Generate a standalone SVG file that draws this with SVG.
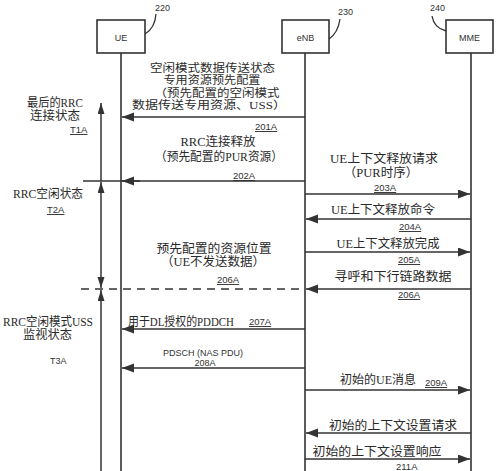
<svg xmlns="http://www.w3.org/2000/svg" width="500" height="471" viewBox="0 0 500 471">
<style>
.box{fill:#fff;stroke:#333;stroke-width:1.6}
.life{stroke:#333;stroke-width:1.6;fill:none}
.msg{stroke:#333;stroke-width:1.5;fill:none}
.lead{stroke:#333;stroke-width:1.3;fill:none}
.dash{stroke:#333;stroke-width:1.5;fill:none;stroke-dasharray:8,6}
.t{font-family:"Liberation Serif","Noto Sans CJK SC",serif;font-size:12.5px;fill:#2a2a2a}
.c{font-size:11px}
.s{font-family:"Liberation Sans",Arial,sans-serif;font-size:9px;fill:#333}
.n{font-family:"Liberation Sans",Arial,sans-serif;font-size:9.5px;fill:#333;text-decoration:underline}
.m{text-anchor:middle}
</style>
<defs>
<marker id="ah" markerUnits="userSpaceOnUse" markerWidth="13" markerHeight="10" refX="12" refY="4.5" orient="auto-start-reverse">
<path d="M0,0 L12,4.5 L0,9 z" fill="#333"/>
</marker>
<marker id="ta" markerUnits="userSpaceOnUse" markerWidth="12" markerHeight="8" refX="11" refY="3.5" orient="auto-start-reverse">
<path d="M0,0 L11,3.5 L0,7 z" fill="#333"/>
</marker>
</defs>
<rect width="500" height="471" fill="#fff"/>

<g id="ue">
<rect class="box" x="97" y="20" width="48" height="33"/>
<text class="s m" x="121" y="41" font-size="10">UE</text>
<line class="life" x1="121" y1="53" x2="121" y2="471"/>
<path class="lead" d="M145,34 Q155,28 156,14"/>
<text class="s" x="155" y="11" font-size="10">220</text>
</g>

<g id="enb">
<rect class="box" x="282" y="20" width="47" height="33"/>
<text class="s m" x="305.5" y="41" font-size="10">eNB</text>
<line class="life" x1="305" y1="53" x2="305" y2="471"/>
<path class="lead" d="M329,39 Q338,33 340,19"/>
<text class="s" x="338" y="15" font-size="10">230</text>
</g>

<g id="mme">
<rect class="box" x="446" y="20" width="47" height="33"/>
<text class="s m" x="469.5" y="41" font-size="10">MME</text>
<line class="life" x1="471" y1="53" x2="471" y2="471"/>
<path class="lead" d="M432,16 Q434,28 446,31"/>
<text class="s" x="430" y="11" font-size="10">240</text>
</g>

<g id="states">
<text class="t" x="27" y="107" textLength="56" lengthAdjust="spacingAndGlyphs">最后的RRC</text>
<text class="t" x="30" y="120" textLength="50" lengthAdjust="spacingAndGlyphs">连接状态</text>
<text class="n" x="70" y="133">T1A</text>
<text class="t" x="13" y="198" textLength="70" lengthAdjust="spacingAndGlyphs">RRC空闲状态</text>
<text class="n" x="47" y="213">T2A</text>
<text class="t" x="3" y="326" textLength="90" lengthAdjust="spacingAndGlyphs">RRC空闲模式USS</text>
<text class="t" x="23" y="339" textLength="49" lengthAdjust="spacingAndGlyphs">监视状态</text>
<text class="s" x="50" y="364" font-size="9.5">T3A</text>
</g>

<g id="connectors">
<line class="msg" x1="101" y1="181" x2="101" y2="103" marker-end="url(#ta)"/>
<line class="msg" x1="101" y1="182" x2="101" y2="288" marker-start="url(#ta)" marker-end="url(#ta)"/>
<line class="msg" x1="101" y1="290" x2="101" y2="471" marker-start="url(#ta)"/>

<line class="msg" x1="305" y1="117" x2="122" y2="117" marker-end="url(#ah)"/>
<line class="msg" x1="83" y1="181" x2="305" y2="181"/>
<line class="msg" x1="140" y1="181" x2="122" y2="181" marker-end="url(#ah)"/>
<line class="msg" x1="305" y1="194" x2="470" y2="194" marker-end="url(#ah)"/>
<line class="msg" x1="471" y1="219" x2="306" y2="219" marker-end="url(#ah)"/>
<line class="msg" x1="305" y1="252" x2="470" y2="252" marker-end="url(#ah)"/>
<line class="dash" x1="81" y1="289" x2="305" y2="289"/>
<line class="msg" x1="471" y1="289" x2="306" y2="289" marker-end="url(#ah)"/>
<line class="msg" x1="305" y1="329" x2="122" y2="329" marker-end="url(#ah)"/>
<line class="msg" x1="305" y1="368" x2="122" y2="368" marker-end="url(#ah)"/>
<line class="msg" x1="305" y1="390" x2="470" y2="390" marker-end="url(#ah)"/>
<line class="msg" x1="471" y1="433" x2="306" y2="433" marker-end="url(#ah)"/>
<line class="msg" x1="305" y1="459" x2="470" y2="459" marker-end="url(#ah)"/>
</g>

<g id="labels">
<text class="t c m" x="212.5" y="72" textLength="125" lengthAdjust="spacingAndGlyphs">空闲模式数据传送状态</text>
<text class="t c m" x="212" y="84" textLength="97" lengthAdjust="spacingAndGlyphs">专用资源预先配置</text>
<text class="t c m" x="217" y="96.5" textLength="125" lengthAdjust="spacingAndGlyphs">（预先配置的空闲模式</text>
<text class="t c m" x="209" y="109" textLength="154" lengthAdjust="spacingAndGlyphs">数据传送专用资源、USS）</text>
<text class="n" x="255" y="130">201A</text>

<text class="t m" x="218" y="146">RRC连接释放</text>
<text class="t m" x="219" y="161" textLength="128" lengthAdjust="spacingAndGlyphs">（预先配置的PUR资源）</text>
<text class="n" x="233" y="179">202A</text>

<text class="t m" x="384" y="163" textLength="108" lengthAdjust="spacingAndGlyphs">UE上下文释放请求</text>
<text class="t m" x="381" y="177">（PUR时序）</text>
<text class="n" x="374" y="191">203A</text>

<text class="t m" x="383" y="214" textLength="104" lengthAdjust="spacingAndGlyphs">UE上下文释放命令</text>
<text class="n" x="399" y="230">204A</text>

<text class="t m" x="388" y="248" textLength="103" lengthAdjust="spacingAndGlyphs">UE上下文释放完成</text>
<text class="n" x="398" y="263">205A</text>

<text class="t m" x="393" y="281" textLength="117" lengthAdjust="spacingAndGlyphs">寻呼和下行链路数据</text>
<text class="n" x="398" y="298">206A</text>

<text class="t m" x="214" y="253" textLength="115" lengthAdjust="spacingAndGlyphs">预先配置的资源位置</text>
<text class="t m" x="213" y="266">（UE不发送数据）</text>
<text class="n" x="217" y="283">206A</text>

<text class="t" x="128" y="326" textLength="106" lengthAdjust="spacingAndGlyphs">用于DL授权的PDDCH</text>
<text class="n" x="249" y="325">207A</text>

<text class="s m" x="203" y="356">PDSCH (NAS PDU)</text>
<text class="s m" x="205" y="366" font-size="9.5">208A</text>

<text class="t" x="340" y="384" textLength="76" lengthAdjust="spacingAndGlyphs">初始的UE消息</text>
<text class="n" x="425" y="386">209A</text>

<text class="t m" x="393" y="430" textLength="128" lengthAdjust="spacingAndGlyphs">初始的上下文设置请求</text>
<text class="t m" x="377" y="456" textLength="129" lengthAdjust="spacingAndGlyphs">初始的上下文设置响应</text>
<text class="n" x="396" y="470">211A</text>
</g>
</svg>
